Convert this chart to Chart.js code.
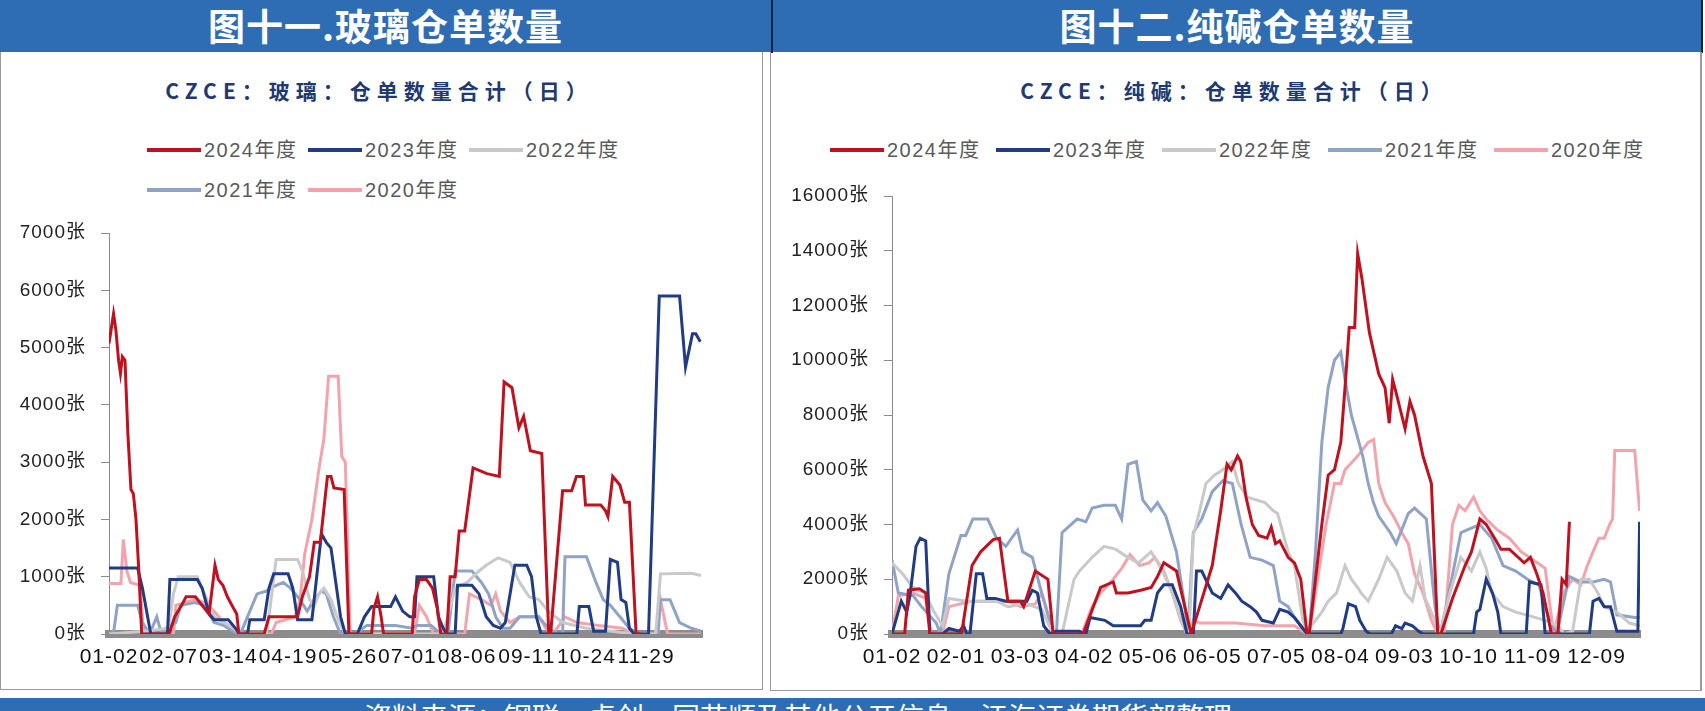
<!DOCTYPE html>
<html><head><meta charset="utf-8">
<script src="https://cdn.jsdelivr.net/npm/chart.js@4.4.1/dist/chart.umd.min.js"></script>
<style>
html,body{margin:0;padding:0;background:#fff;}
body{width:1705px;height:711px;position:relative;overflow:hidden;font-family:"Noto Sans CJK SC",sans-serif;}
.hdr{position:absolute;top:0;height:52px;background:#2E6DB4;color:#fff;font-weight:bold;font-size:37px;line-height:50px;text-align:center;letter-spacing:1px;}
.panel{position:absolute;top:52px;box-sizing:border-box;border:1px solid #9a9a9a;border-top:none;}
.title{position:absolute;top:77px;height:26px;line-height:26px;text-align:center;font-weight:bold;font-size:21px;color:#1F3A70;letter-spacing:6px;white-space:nowrap;}
.legend{position:absolute;height:24px;white-space:nowrap;font-family:"Liberation Sans","Noto Sans CJK SC",sans-serif;font-size:20px;color:#5a5a5a;letter-spacing:1.5px;}
.legend .item{display:inline-block;position:relative;height:24px;}
.legend .ln{position:absolute;left:0;top:10px;width:54px;height:4px;}
.legend .tx{position:absolute;left:57px;top:0;line-height:24px;}
.footer{position:absolute;left:0;top:698px;width:1705px;height:13px;background:#2E6DB4;overflow:hidden;}
.footer span{position:absolute;left:364px;top:3px;font-size:28px;line-height:30px;color:#fff;white-space:nowrap;}
canvas{position:absolute;}
</style></head>
<body>
<div class="hdr" style="left:0;width:771px;">图十一.玻璃仓单数量</div>
<div style="position:absolute;left:771px;top:0;width:2px;height:53px;background:#14254a;"></div>
<div class="hdr" style="left:773px;width:928px;">图十二.纯碱仓单数量</div>
<div style="position:absolute;left:1701px;top:0;width:2px;height:53px;background:#14254a;"></div>
<div class="panel" style="left:0;width:763px;height:638px;"></div>
<div class="panel" style="left:770px;width:932px;height:639px;border-right:2px solid #9a9a9a;"></div>

<div class="title" style="left:-2px;width:762px;">CZCE：玻璃：仓单数量合计（日）</div>
<div class="title" style="left:768px;width:932px;">CZCE：纯碱：仓单数量合计（日）</div>

<div id="legG1" class="legend" style="left:147px;top:138px;"></div>
<div id="legG2" class="legend" style="left:147px;top:178px;"></div>
<div id="legS" class="legend" style="left:830px;top:138px;"></div>

<canvas id="glass" width="762" height="480" style="left:0;top:200px;width:762px;height:480px;"></canvas>
<canvas id="soda" width="932" height="500" style="left:771px;top:180px;width:932px;height:500px;"></canvas>

<div class="footer"><span>资料来源：钢联、卓创、同花顺及其他公开信息，江海证券期货部整理</span></div>

<script>
// ---------- series names & colours ----------
const YEARS = ['2024年度','2023年度','2022年度','2021年度','2020年度'];
const COLORS = ['#C0111F','#1F3C85','#C9C9C9','#8FA3C7','#F2A3AB'];

// ---------- glass (left) : [trading-day index, 张] ----------
const glassTickIdx = [0,25,50,75,100,125,150,175,200,225];
const glassTicks = ['01-02','02-07','03-14','04-19','05-26','07-01','08-06','09-11','10-24','11-29'];
const glassXMax = 248.4;

const glass2024 = [[0,5070],[1.9,5590],[2.9,5300],[4,4780],[4.8,4550],[5.6,4840],[6.7,4780],[7.9,3500],[9.2,2520],[10.2,2450],[11.3,2000],[12.5,1100],[13.7,0],[25.2,0],[27.5,300],[30.4,500],[32.3,650],[36.2,650],[39,500],[41.9,350],[44.4,1200],[45.8,950],[47.7,850],[49.6,650],[51.5,500],[53.5,350],[54.4,0],[65,0],[67,300],[79,300],[81,650],[84,1000],[86,1600],[88.5,1600],[91.5,2750],[93,2750],[94.2,2550],[98.5,2520],[100.5,0],[110,0],[111,450],[112.5,650],[114,300],[115,0],[127,0],[128,650],[130,950],[133,950],[135.5,800],[137.5,450],[139,0],[141.5,0],[142.9,1000],[145,1000],[146.7,1800],[149,1800],[152.5,2900],[158.3,2800],[163.5,2750],[165.5,4400],[168.8,4300],[171.7,3600],[173.7,3800],[176.5,3200],[181.3,3150],[184.2,0],[185,0],[190,2500],[193.8,2500],[195.8,2750],[198.7,2750],[199.6,2250],[206,2250],[208,2150],[209,2050],[211,2750],[214,2600],[216,2300],[218,2300],[220.8,0],[223,0]];
const glass2023 = [[0,1150],[12,1150],[14,800],[17.5,0],[24.5,0],[25.5,950],[37,950],[39,800],[42,350],[44,250],[50,250],[53,100],[54.5,0],[58,0],[59,250],[65,250],[67,800],[69,1050],[75,1050],[77,800],[79,250],[85,250],[87,1000],[89,1750],[91,1600],[93,1500],[95,900],[97,300],[99,0],[104,0],[107,300],[110,480],[118,480],[120,650],[123,400],[126,300],[128,300],[129,1000],[136,1000],[138,300],[140,100],[141.5,0],[145,0],[146,850],[152,850],[155,700],[158,300],[161,150],[164,100],[166,200],[168,700],[170,1200],[175,1200],[177,1000],[179,300],[181,0],[196,0],[197,480],[201,480],[203,50],[208,50],[210,1300],[213,1250],[214.5,600],[216.5,550],[218,100],[220,0],[226,0],[230.5,5900],[239,5900],[241.5,4660],[244.4,5240],[245.8,5240],[247.7,5100]];
const glass2022 = [[0,0],[15,50],[25,100],[27,700],[29,1000],[37,1000],[40,700],[44,300],[48,200],[52,100],[55,0],[66,0],[67,300],[70,1300],[79,1300],[81,1100],[84,600],[86,500],[88,700],[90,800],[93,600],[96,250],[99,0],[140,0],[145,800],[150,900],[155,1100],[158,1200],[163,1330],[168,1250],[172,900],[176,650],[180,600],[184,400],[190,200],[200,100],[220,0],[229,0],[231,1050],[244,1060],[248,1020]];
const glass2021 = [[0,0],[2,50],[3.5,500],[12,500],[14,200],[17,0],[20,300],[22,0],[24,100],[28,200],[30,500],[36,550],[40,500],[44,200],[48,150],[52,50],[55,0],[58,300],[62,700],[66,750],[70,850],[73,900],[76,800],[80,600],[83,400],[86,600],[89,750],[91,700],[94,300],[97,0],[103,0],[108,150],[120,150],[127,100],[129,150],[135,150],[139,0],[142,0],[145,1100],[152,1100],[156,900],[159,700],[162,300],[165,100],[168,100],[172,300],[180,300],[184,100],[188,0],[190,0],[191,1350],[200,1350],[204,900],[207,600],[210,500],[214,300],[218,100],[222,0],[230,0],[231,600],[235,600],[239,200],[244,100],[248,50]];
const glass2020 = [[0,880],[5,880],[6,1650],[7.5,1100],[9,900],[13,850],[14.5,0],[27,0],[28,500],[32,550],[36,600],[40,550],[44,400],[48,200],[52,100],[55,0],[68,0],[70,200],[78,300],[80,600],[82,1400],[85,2000],[88,2900],[90,3400],[92,4500],[96,4500],[97.5,3100],[99,3000],[101,0],[128,0],[130,500],[133,300],[136,0],[149,0],[151,700],[156,600],[160,500],[162,700],[164,400],[168,200],[172,300],[180,300],[183,100],[186,0],[191,300],[196,200],[205,150],[215,100],[220,0],[229,0],[231,600],[233,200],[234,0],[248,0]];

// ---------- soda ash (right) : [day index, 张] ----------
const sodaTickIdx = [0,30.4,60.8,91.2,121.6,152,182.4,212.8,243.2,273.6,304,334.4];
const sodaTicks = ['01-02','02-01','03-03','04-02','05-06','06-05','07-05','08-04','09-03','10-10','11-09','12-09'];
const sodaXMax = 355;

const soda2024 = [[0,0],[6,0],[7.8,1600],[13,1650],[16,1500],[18,0],[33,0],[38,2500],[42,3000],[48,3450],[51,3500],[55,1200],[61,1200],[62.5,1000],[68,2300],[74,2000],[76.5,0],[90.7,0],[99,1700],[105,1900],[106.5,1500],[112,1500],[118,1600],[123,1700],[126,2100],[129,2600],[135,2300],[142,0],[146,1000],[152,2500],[156,4500],[159,6200],[161,6000],[164,6500],[165.5,6300],[168,5000],[171,4000],[174,3600],[178,3500],[180,3900],[182,3300],[184,3400],[188,2800],[191,2600],[194,2000],[197,0],[198,0],[201,2000],[204,4000],[207,5800],[210,6000],[213,7000],[215,9000],[217,11200],[219.6,11200],[221,13900],[223,13000],[226.6,11000],[231,9500],[234,9000],[236,7700],[237.6,9300],[239.3,8800],[243.5,7500],[245.8,8500],[248,8000],[252,6500],[256,5500],[259,0],[260.5,0],[266,1300],[272,2500],[275,3000],[279,4200],[282,4000],[286,3500],[289,3100],[293,3100],[300,2600],[303,2800],[306,2200],[309,1500],[313,0],[316,0],[318,2000],[320,1800],[321.5,4100]];
const soda2023 = [[0,0],[4.4,1200],[7,800],[8.5,1400],[11.4,3200],[13.4,3500],[16,3400],[18,0],[24,0],[27,200],[32,100],[34,300],[35.5,0],[37,0],[40,2200],[43,2200],[45,1300],[49,1300],[54,1200],[64,1200],[66.6,1600],[69,1500],[72,300],[75,0],[78,100],[89,100],[91,0],[92,0],[94,600],[101,500],[105,300],[118,300],[120,500],[123,500],[126,1500],[129,1800],[133,1800],[137,1000],[140,0],[143,0],[144.5,2300],[147,2300],[152,1500],[156,1300],[159.5,1800],[163,1500],[166,1200],[170,1000],[173,800],[175.6,500],[181,400],[184,900],[188,800],[191,600],[194,300],[197,0],[213,0],[214,200],[216.6,1100],[220,1000],[222,500],[225,100],[227,0],[237,0],[239,300],[242,200],[243.5,400],[247,300],[250,100],[252,0],[276,0],[277.5,800],[279,900],[282,2000],[285,1500],[287.5,800],[289,0],[301,0],[302.5,1900],[308,1800],[310,0],[331,0],[332.7,1200],[335.5,1300],[338,1000],[341,1000],[344,100],[354,100],[354.8,4100]];
const soda2022 = [[0,2600],[5,2200],[10,1700],[15.7,1500],[20,800],[24,300],[27,1300],[35.5,1200],[49.7,1200],[55,1000],[64,1100],[71,900],[76.5,0],[80.7,0],[86.4,2000],[89,2300],[95,2800],[100.6,3200],[106,3100],[112,2800],[117,2600],[123,3000],[129,2200],[133,1500],[137,600],[140,0],[141,0],[143,3600],[146,4500],[149,5500],[153,5800],[157,6000],[161.5,6300],[164.3,5500],[168.6,5000],[177,4800],[181,4500],[183,4400],[188,3000],[191,2500],[195,500],[197,0],[199,300],[204,800],[207,1200],[211,1500],[215,2500],[218,2000],[221,1700],[222.6,1500],[226,1200],[231,2000],[235,2800],[239.6,2300],[243.5,1500],[247,1200],[250.6,2500],[253,1300],[257.7,500],[260,0],[264.8,1500],[270,2800],[275,2300],[279,3000],[282,2400],[284.6,1500],[290,1000],[296,800],[301,700],[310,500],[316,300],[319,0],[323,100],[327,2000],[331,2000],[335,1500],[338,1000],[344,800],[350,400],[355,300]];
const soda2021 = [[0,2700],[3,1500],[10,1400],[14,1000],[21,400],[23,0],[27,2200],[32.7,3600],[35,3600],[38.4,4200],[45.4,4200],[49.6,3500],[54,3200],[59.6,3800],[62,3000],[66.6,2800],[71,1500],[73,1000],[76.5,0],[78,0],[80.7,3700],[83.6,3900],[87.9,4200],[92,4100],[95,4600],[100.6,4700],[106,4700],[109,4200],[112,6200],[116,6300],[119,4900],[123,4500],[126,4800],[130,4300],[135,3000],[139,1000],[140.5,0],[143,3700],[147,4200],[152,5200],[157,5600],[161.5,5500],[165.7,4000],[170,2800],[175.6,2700],[181,2500],[184,1200],[188,1000],[191,600],[196,100],[198,0],[201,3000],[204,7000],[207,9000],[210,10000],[213,10300],[215,9300],[218,8000],[223.4,6500],[226,5500],[228.5,4800],[231,4300],[236.5,3700],[239.3,3300],[245,4400],[248,4600],[253.6,4200],[257.7,1000],[260,0],[263,1000],[270,3700],[273,3800],[279,4000],[284.6,3500],[290,2500],[296,2300],[301.6,2000],[307,1800],[310,1000],[313,300],[315.5,0],[321.4,2100],[327,1900],[332.7,1900],[338,2000],[341,1900],[344,700],[352.5,600],[354.8,600]];
const soda2020 = [[0,0],[3,1400],[10,1500],[16,1300],[18.5,0],[24,0],[27,1000],[38,1200],[55,1200],[61,1000],[68,1100],[71,1500],[76.5,0],[90,0],[95,1000],[99,1500],[105,2000],[109,2400],[113,2900],[117.5,2500],[122,2600],[124.7,2800],[129,2300],[133,1500],[137,500],[140,0],[141,0],[143,500],[146,400],[163,400],[177,300],[191,300],[197,0],[198,0],[202,2000],[206,4000],[210,5500],[213,5500],[215,6000],[221,6500],[226,7000],[228.6,7100],[231,5500],[234,4800],[238,4300],[242,3700],[245,3300],[248,2200],[252,1500],[256,500],[259,0],[262,0],[266,4000],[269,4700],[272,4500],[276,5000],[279,4500],[282,4200],[287.4,3800],[293,3500],[298.7,3000],[304.4,2700],[310,2400],[314,0],[318.6,1500],[323,2000],[327,1800],[330,2500],[332.7,3000],[335.5,3500],[338,3500],[340.6,4000],[342,4200],[343,6700],[352.5,6700],[354.8,4500]];

// ---------- legends ----------
function buildLegend(el, idxs, pitch){
  el.innerHTML = idxs.map(i => '<span class="item" style="width:'+pitch+'px"><span class="ln" style="background:'+COLORS[i]+'"></span><span class="tx">'+YEARS[i]+'</span></span>').join('');
}
buildLegend(document.getElementById('legG1'), [0,1,2], 161);
buildLegend(document.getElementById('legG2'), [3,4], 161);
buildLegend(document.getElementById('legS'), [0,1,2,3,4], 166);

// ---------- charts ----------
const FONT_FAMILY = "'Liberation Sans','Noto Sans CJK SC',sans-serif";
const spacing = {id:'spacing', beforeDraw(c){ c.ctx.letterSpacing = '1px'; }};

function makeChart(id, series, tickIdx, tickLabels, xMax, yMax, yStep, yWidth, padTop, padRight){
  return new Chart(document.getElementById(id), {
    type: 'line',
    data: { datasets: series.map((d,i) => ({
      label: YEARS[i], data: d, borderColor: COLORS[i], backgroundColor: COLORS[i],
      borderWidth: 3, pointRadius: 0, tension: 0, fill: false
    }))},
    options: {
      responsive: false, animation: false, devicePixelRatio: 1,
      layout: { padding: { top: padTop, right: padRight, left: 0, bottom: 0 } },
      plugins: { legend: { display: false }, title: { display: false }, tooltip: { enabled: false } },
      scales: {
        x: {
          type: 'linear', min: 0, max: xMax,
          afterBuildTicks: s => { s.ticks = tickIdx.map(v => ({ value: v })); },
          afterFit: s => { s.height = 46; s.paddingLeft = 0; s.paddingRight = 0; },
          ticks: { autoSkip: false, maxRotation: 0, minRotation: 0, padding: 11, color: '#111',
                   font: { family: FONT_FAMILY, size: 21 }, callback: (v, i) => tickLabels[i] },
          grid: { display: false, drawTicks: false },
          border: { display: true, color: '#8C8C8C', width: 8 }
        },
        y: {
          min: 0, max: yMax,
          afterFit: s => { s.width = yWidth; s.paddingTop = 0; s.paddingBottom = 0; },
          ticks: { stepSize: yStep, padding: 15, color: '#222',
                   font: { family: FONT_FAMILY, size: 19 }, callback: v => v + '张' },
          grid: { display: true, drawOnChartArea: false, drawTicks: true, tickLength: 8, color: '#8a8a8a', lineWidth: 1 },
          border: { display: true, color: '#8a8a8a', width: 1 }
        }
      }
    },
    plugins: [spacing]
  });
}

makeChart('glass', [glass2024, glass2023, glass2022, glass2021, glass2020], glassTickIdx, glassTicks, glassXMax, 7000, 1000, 109, 33, 60);
makeChart('soda', [soda2024, soda2023, soda2022, soda2021, soda2020], sodaTickIdx, sodaTicks, sodaXMax, 16000, 2000, 121, 16, 63);
</script>
</body></html>
